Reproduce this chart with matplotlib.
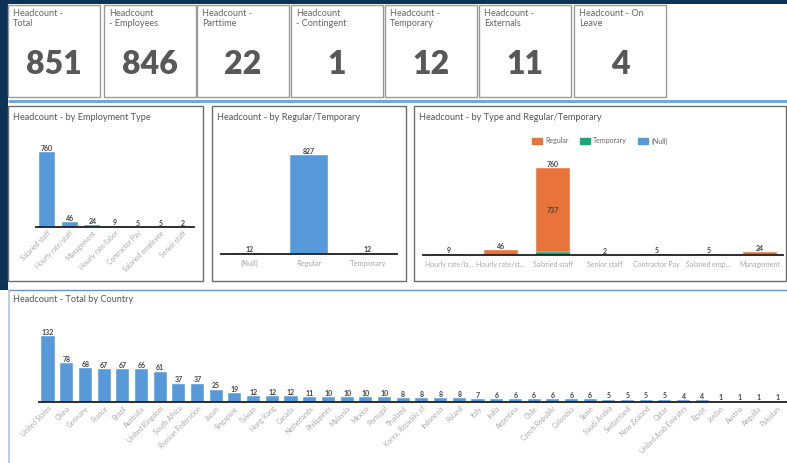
import matplotlib
matplotlib.use("Agg")
import matplotlib.pyplot as plt
from matplotlib.patches import Rectangle, Patch

plt.rcParams['font.family'] = ['Lato', 'DejaVu Sans']

# ---------------- data ----------------
card_titles = ["Headcount -\nTotal", "Headcount\n- Employees", "Headcount -\nParttime",
               "Headcount\n- Contingent", "Headcount -\nTemporary", "Headcount -\nExternals",
               "Headcount - On\nLeave"]
card_values = [851, 846, 22, 1, 12, 11, 4]

emp_types = ["Salaried staff", "Hourly rate/staff", "Management", "Hourly rate/labor",
             "Contractor Pay", "Salaried employee", "Senior staff"]
emp_counts = [760, 46, 24, 9, 5, 5, 2]

regtemp_cats = ["(Null)", "Regular", "Temporary"]
regtemp_counts = [12, 827, 12]

type_cats = ["Hourly rate/la...", "Hourly rate/st...", "Salaried staff", "Senior staff",
             "Contractor Pay", "Salaried emp...", "Management"]
type_regular = [9, 46, 737, 2, 5, 5, 24]
type_temporary = [0, 0, 23, 0, 0, 0, 0]
type_null = [0, 0, 0, 0, 0, 0, 0]

countries = ["United States", "China", "Germany", "France", "Brazil", "Australia",
             "United Kingdom", "South Africa", "Russian Federation", "Japan", "Singapore",
             "Taiwan", "Hong Kong", "Canada", "Netherlands", "Philippines", "Malaysia",
             "Mexico", "Portugal", "Thailand", "Korea, Republic of", "Indonesia", "Poland",
             "Italy", "India", "Argentina", "Chile", "Czech Republic", "Colombia", "Spain",
             "Saudi Arabia", "Switzerland", "New Zealand", "Qatar", "United Arab Emirates",
             "Egypt", "Jordan", "Austria", "Anguilla", "Pakistan"]
country_counts = [132, 78, 68, 67, 67, 66, 61, 37, 37, 25, 19, 12, 12, 12, 11, 10, 10, 10,
                  10, 8, 8, 8, 8, 7, 6, 6, 6, 6, 6, 6, 5, 5, 5, 5, 4, 4, 1, 1, 1, 1]

# ---------------- style ----------------
W, H = 787, 463
BLUE = "#5899da"
ORANGE = "#e8743b"
GREEN = "#19a979"
NAVY = "#0e3156"
TXT = "#555555"
TICK = "#a8a8a8"
VAL = "#444444"

fig = plt.figure(figsize=(W / 100, H / 100), dpi=100)
fig.patch.set_facecolor("white")

ov = fig.add_axes([0, 0, 1, 1], zorder=0)
ov.set_xlim(0, W)
ov.set_ylim(H, 0)
ov.axis("off")

# dark frame strips
ov.add_patch(Rectangle((0, 0), W, 4, color=NAVY, lw=0))
ov.add_patch(Rectangle((0, 0), 8, 290, color=NAVY, lw=0))

# KPI cards
card_x = [8, 104, 197, 291, 385, 479, 574]
card_w = 92
for x, t, v in zip(card_x, card_titles, card_values):
    ov.add_patch(Rectangle((x, 4.5), card_w, 92, fill=False, ec="#9a9a9a", lw=1))
    ov.text(x + 5, 9, t, fontsize=6.6, color="#666666", va="top", ha="left", linespacing=1.15)
    ov.text(x + card_w / 2, 64, str(v), fontsize=23, fontweight="heavy", color="#585858",
            ha="center", va="center")

# separators
ov.plot([8, W], [100.5, 100.5], color="#6fa8dc", lw=2.2, solid_capstyle="butt")
ov.plot([8, W], [290, 290], color="#6a93bf", lw=1, solid_capstyle="butt")
ov.plot([9, 9], [290, H], color="#a9c6e6", lw=1.2)

# panels
panels = [(8, 106, 203, 281, "Headcount - by Employment Type"),
          (212, 106, 406, 281, "Headcount - by Regular/Temporary"),
          (414, 106, 786, 281, "Headcount - by Type and Regular/Temporary")]
for x0, y0, x1, y1, t in panels:
    ov.add_patch(Rectangle((x0, y0), x1 - x0, y1 - y0, fill=False, ec="#6b6b6b", lw=1))
    ov.text(x0 + 5, y0 + 11, t, fontsize=6.6, color=TXT, va="center", ha="left")
ov.text(13, 300, "Headcount - Total by Country", fontsize=6.6, color=TXT, va="center", ha="left")


def ax_px(x0, y0, x1, y1):
    a = fig.add_axes([x0 / W, 1 - y1 / H, (x1 - x0) / W, (y1 - y0) / H], zorder=2)
    a.patch.set_alpha(0)
    for s in ["top", "right", "left"]:
        a.spines[s].set_visible(False)
    a.spines["bottom"].set_color("#1e1e1e")
    a.spines["bottom"].set_linewidth(1.3)
    a.set_yticks([])
    a.tick_params(axis="x", length=0, pad=2)
    return a


def value_labels(a, xs, vals, fs=5):
    for x, v in zip(xs, vals):
        a.text(x, v, str(v), ha="center", va="bottom", fontsize=fs, color=VAL,
               fontweight="bold")


# Panel 1
a1 = ax_px(36, 140, 194, 227)
x1 = list(range(len(emp_types)))
a1.bar(x1, emp_counts, width=0.7, color=BLUE, ec="white", lw=0.3)
value_labels(a1, x1, emp_counts)
a1.set_xlim(-0.485, 6.485)
a1.set_ylim(0, 881)
a1.set_xticks(x1)
a1.set_xticklabels(emp_types, rotation=45, ha="right", rotation_mode="anchor",
                   fontsize=4.9, color=TICK)

# Panel 2
a2 = ax_px(221, 140, 397, 254)
x2 = list(range(len(regtemp_cats)))
a2.bar(x2, regtemp_counts, width=0.66, color=BLUE, ec="white", lw=0.3)
value_labels(a2, x2, regtemp_counts)
a2.set_xlim(-0.49, 2.49)
a2.set_ylim(0, 952)
a2.set_xticks(x2)
a2.set_xticklabels(regtemp_cats, fontsize=5.5, color=TICK)
a2.tick_params(axis="x", pad=4)

# Panel 3
a3 = ax_px(423, 150, 783, 255)
x3 = list(range(len(type_cats)))
a3.bar(x3, type_null, width=0.66, color=BLUE, lw=0)
bot = list(type_null)
a3.bar(x3, type_temporary, width=0.66, bottom=bot, color=GREEN, lw=0)
bot = [b + t for b, t in zip(bot, type_temporary)]
a3.bar(x3, type_regular, width=0.66, bottom=bot, color=ORANGE, ec="white", lw=0.3)
totals = [r + t + n for r, t, n in zip(type_regular, type_temporary, type_null)]
value_labels(a3, x3, totals)
for x, r, b in zip(x3, type_regular, bot):
    if r > 100:
        a3.text(x, b + r / 2, str(r), ha="center", va="center", fontsize=5,
                color=VAL, fontweight="bold")
a3.set_xlim(-0.5, 6.44)
a3.set_ylim(0, 917)
a3.set_xticks(x3)
a3.set_xticklabels(type_cats, fontsize=5, color=TICK)
a3.tick_params(axis="x", pad=4)
handles = [Patch(color=ORANGE, label="Regular"), Patch(color=GREEN, label="Temporary"),
           Patch(color=BLUE, label="(Null)")]
a3.legend(handles=handles, loc="center", bbox_to_anchor=(600 / W, 1 - 141 / H),
          bbox_transform=fig.transFigure, ncol=3, frameon=False, fontsize=5,
          handlelength=1.4, handleheight=1.0, columnspacing=1.6, handletextpad=0.5,
          labelcolor="#666666")

# Bottom panel
a4 = ax_px(39, 320, 787, 402)
x4 = list(range(len(countries)))
a4.bar(x4, country_counts, width=0.7, color=BLUE, ec="white", lw=0.3)
value_labels(a4, x4, country_counts, fs=5)
a4.set_xlim(-0.48, 39.53)
a4.set_ylim(0, 164)
a4.set_xticks(x4)
a4.set_xticklabels(countries, rotation=45, ha="right", rotation_mode="anchor",
                   fontsize=4.9, color=TICK)

fig.savefig("out.png", dpi=100)
